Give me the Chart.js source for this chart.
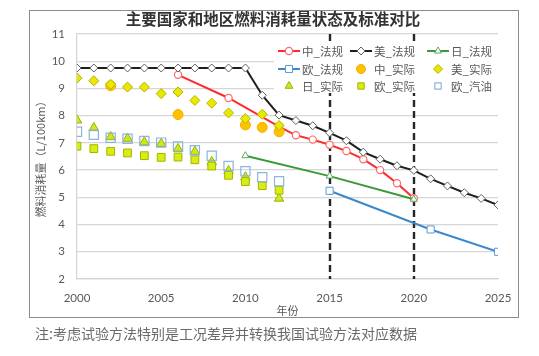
<!DOCTYPE html>
<html><head><meta charset="utf-8">
<script src="https://cdn.jsdelivr.net/npm/chart.js@4.4.1/dist/chart.umd.min.js"></script>
<style>
html,body{margin:0;padding:0;background:#fff;}
#wrap{position:relative;width:539px;height:356px;overflow:hidden;}
#frame{position:absolute;left:29px;top:10px;width:490px;height:308px;border:1.5px solid #8c8c8c;box-sizing:border-box;}
#c{position:absolute;left:0;top:0;}
#note{position:absolute;left:35px;top:324px;font-size:14px;line-height:18px;font-family:"Noto Sans CJK SC";color:#6a6a6a;white-space:nowrap;}
</style></head>
<body>
<div id="wrap">
<div id="frame"></div>
<canvas id="c" width="539" height="356"></canvas>
<div id="note">注:考虑试验方法特别是工况差异并转换我国试验方法对应数据</div>
</div>
<script>
// ---- data ----
const chartTitle = '主要国家和地区燃料消耗量状态及标准对比';
const xTitle = '年份';
const yTitle = '燃料消耗量（L/100km）';
const xTicks = [2000, 2005, 2010, 2015, 2020, 2025];
const yTicks = [2, 3, 4, 5, 6, 7, 8, 9, 10, 11];
const milestoneYears = [2015, 2020];

const cnRegYears  = [2006, 2009, 2012, 2013, 2014, 2015, 2016, 2017, 2018, 2019, 2020];
const cnRegValues = [9.5, 8.65, 7.6, 7.28, 7.12, 6.93, 6.7, 6.4, 6.0, 5.52, 4.97];

const usRegYears  = [2000,2001,2002,2003,2004,2005,2006,2007,2008,2009,2010,2011,2012,2013,2014,2015,2016,2017,2018,2019,2020,2021,2022,2023,2024,2025];
const usRegValues = [9.75,9.75,9.75,9.75,9.75,9.75,9.75,9.75,9.75,9.75,9.75,8.75,8.02,7.82,7.63,7.37,7.08,6.66,6.4,6.16,5.99,5.68,5.42,5.17,4.96,4.72];

const jpRegYears  = [2010, 2015, 2020];
const jpRegValues = [6.53, 5.78, 4.93];

const euRegYears  = [2015, 2021, 2025];
const euRegValues = [5.24, 3.82, 3.0];

const cnActYears  = [2002, 2006, 2010, 2011, 2012];
const cnActValues = [9.1, 8.04, 7.66, 7.57, 7.41];

const actYears    = [2000,2001,2002,2003,2004,2005,2006,2007,2008,2009,2010,2011,2012];
const usActValues = [9.38,9.28,9.15,9.05,9.05,8.81,8.87,8.56,8.46,8.1,7.89,8.05,7.64];
const jpActValues = [7.83,7.55,7.22,7.16,7.03,6.97,6.78,6.68,6.3,5.97,5.74,null,4.96];
const euActValues = [6.88,6.79,6.69,6.63,6.53,6.47,6.48,6.38,6.15,5.81,5.58,5.43,5.26];
const euGasValues = [7.41,7.3,7.19,7.15,7.07,7.01,6.87,6.73,6.53,6.15,5.96,5.74,5.59];

const seriesNames = ['中_法规','美_法规','日_法规','欧_法规','中_实际','美_实际','日_实际','欧_实际','欧_汽油'];

function pts(xs, ys){ return xs.map((x,i)=>({x:x, y:ys[i]})); }

const styles = [
  {line:true,  color:'#ff2b2b', style:'circle',  r:3.6, fill:'#ffffff', stroke:'#ff6a6a', bw:1.2},
  {line:true,  color:'#1e1e1e', style:'rectRot', r:4,   fill:'#ffffff', stroke:'#606060', bw:1},
  {line:true,  color:'#3a9a3a', style:'triangle',r:4,   fill:'#ffffff', stroke:'#5aaa5a', bw:1},
  {line:true,  color:'#3c88cc', style:'rect',    r:5,   fill:'#ffffff', stroke:'#5a9ad4', bw:1},
  {line:false, color:'#ffc000', style:'circle',  r:5,   fill:'#ffc000', stroke:'#f2b000', bw:1},
  {line:false, color:'#e4e400', style:'rectRot', r:5,   fill:'#e8e800', stroke:'#b4b400', bw:1},
  {line:false, color:'#c8e61e', style:'triangle',r:5.5, fill:'#cce820', stroke:'#98b400', bw:1},
  {line:false, color:'#d0ec10', style:'rect',    r:5.5, fill:'#d8ee10', stroke:'#a4b400', bw:1},
  {line:false, color:'#8db3e2', style:'rect',    r:6.5, fill:'rgba(0,0,0,0)', stroke:'#8db3e2', bw:1.2}
];

const seriesData = [
  pts(cnRegYears, cnRegValues),
  pts(usRegYears, usRegValues),
  pts(jpRegYears, jpRegValues),
  pts(euRegYears, euRegValues),
  pts(cnActYears, cnActValues),
  pts(actYears, usActValues),
  pts(actYears, jpActValues),
  pts(actYears, euActValues),
  pts(actYears, euGasValues)
];

const datasets = seriesNames.map((name, i) => {
  const s = styles[i];
  return {
    label: name,
    data: seriesData[i],
    order: seriesNames.length - i,
    showLine: s.line,
    borderColor: s.color,
    borderWidth: 2,
    backgroundColor: s.fill,
    pointStyle: s.style,
    pointRadius: s.r,
    pointBackgroundColor: s.fill,
    pointBorderColor: s.stroke,
    pointBorderWidth: s.bw,
    spanGaps: true,
    tension: 0
  };
});

const tickFont = {family: 'Lato', size: 11.5};
const axisGrey = '#595959';

const dashPlugin = {
  id: 'milestones',
  beforeDatasetsDraw(chart){
    const {ctx, chartArea, scales} = chart;
    ctx.save();
    ctx.strokeStyle = '#262626';
    ctx.lineWidth = 2.4;
    ctx.setLineDash([7, 4]);
    milestoneYears.forEach(yr => {
      const x = Math.round(scales.x.getPixelForValue(yr));
      ctx.beginPath();
      ctx.moveTo(x, chartArea.top);
      ctx.lineTo(x, chartArea.bottom);
      ctx.stroke();
    });
    ctx.restore();
  }
};

const titleLegendPlugin = {
  id: 'titleLegend',
  afterDatasetsDraw(chart){
    const ctx = chart.ctx;
    ctx.save();
    // title
    ctx.fillStyle = '#333333';
    ctx.font = 'bold 15.5px "Noto Sans CJK SC"';
    ctx.textAlign = 'center';
    ctx.textBaseline = 'middle';
    ctx.fillText(chartTitle, 273, 19);
    // legend box
    ctx.fillStyle = '#ffffff';
    ctx.fillRect(274, 43, 224, 50);
    const colX = [278, 350, 427];
    const rowY = [51, 69, 86];
    ctx.font = '11.5px "Noto Sans CJK SC"';
    ctx.textAlign = 'left';
    seriesNames.forEach((name, i) => {
      const s = styles[i];
      const col = i % 3, row = Math.floor(i / 3);
      const x0 = colX[col], y = rowY[row];
      if (s.line) {
        ctx.strokeStyle = s.color;
        ctx.lineWidth = 2;
        ctx.setLineDash([]);
        ctx.beginPath();
        ctx.moveTo(x0, y);
        ctx.lineTo(x0 + 22, y);
        ctx.stroke();
      }
      ctx.fillStyle = s.fill;
      ctx.strokeStyle = s.stroke;
      ctx.lineWidth = s.bw;
      const r = s.line ? s.r : Math.min(s.r, 4.5);
      Chart.helpers.drawPoint(ctx, {pointStyle: s.style, radius: r, rotation: 0, borderWidth: s.bw}, x0 + 11, y);
      ctx.fillStyle = '#595959';
      ctx.fillText(name, x0 + 24, y + 0.5);
    });
    ctx.restore();
  }
};

new Chart(document.getElementById('c'), {
  type: 'line',
  data: {datasets: datasets},
  plugins: [dashPlugin, titleLegendPlugin],
  options: {
    responsive: false,
    animation: false,
    events: [],
    layout: {padding: {left: 30, right: 41, top: 34, bottom: 30}},
    plugins: {legend: {display: false}, title: {display: false}, tooltip: {enabled: false}},
    scales: {
      x: {
        type: 'linear', min: xTicks[0], max: xTicks[xTicks.length - 1],
        afterBuildTicks(scale){ scale.ticks = xTicks.map(v => ({value: v})); },
        ticks: {padding: 12, font: tickFont, color: axisGrey, maxRotation: 0, callback: v => String(v)},
        grid: {display: false, drawTicks: false},
        border: {display: true, color: '#d4d4d4', width: 1.2},
        title: {display: true, text: xTitle, color: axisGrey, font: {family: 'Noto Sans CJK SC', size: 11}, padding: {top: 0, bottom: 9}},
        afterFit(scale){ scale.height = 47; }
      },
      y: {
        type: 'linear', min: yTicks[0], max: yTicks[yTicks.length - 1],
        afterBuildTicks(scale){ scale.ticks = yTicks.map(v => ({value: v})); },
        ticks: {padding: 12, font: tickFont, color: axisGrey, callback: v => String(v)},
        grid: {color: '#d6d6d6', lineWidth: 1.3, drawTicks: false},
        border: {display: true, color: '#d4d4d4', width: 1.2},
        title: {display: true, text: yTitle, color: axisGrey, font: {family: 'Noto Sans CJK SC', size: 11}, padding: {top: 4, bottom: 0}},
        afterFit(scale){ scale.width = 47; }
      }
    }
  }
});
</script>
</body></html>
